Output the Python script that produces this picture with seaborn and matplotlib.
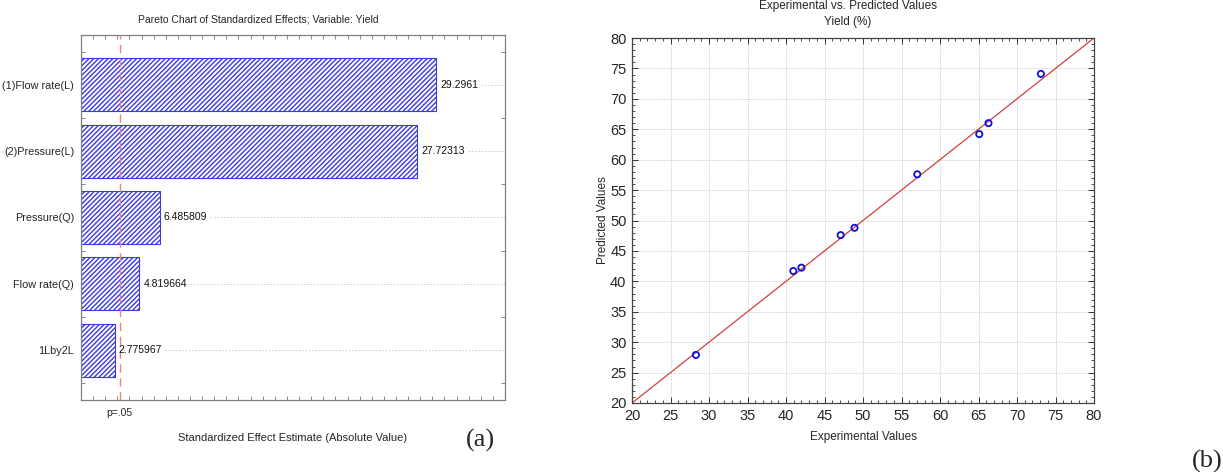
import numpy as np
import pandas as pd
import matplotlib
matplotlib.use("Agg")
import matplotlib.pyplot as plt
import seaborn as sns
from matplotlib.ticker import MultipleLocator, NullFormatter

# ---- data ----
effects = ["(1)Flow rate(L)", "(2)Pressure(L)", "Pressure(Q)", "Flow rate(Q)", "1Lby2L"]
effect_values = [29.2961, 27.72313, 6.485809, 4.819664, 2.775967]
effect_labels = ["29.2961", "27.72313", "6.485809", "4.819664", "2.775967"]
p_crit = 3.182
p_label = "p=.05"

experimental = [28.3, 40.95, 42.0, 47.1, 48.9, 57.05, 65.1, 66.3, 73.1]
predicted = [27.9, 41.7, 42.25, 47.6, 48.8, 57.6, 64.2, 66.0, 74.1]
fit_x = [20, 80]
fit_y = [20, 80]
ticks_b = [20, 25, 30, 35, 40, 45, 50, 55, 60, 65, 70, 75, 80]

sns.set_theme(style="white")
plt.rcParams["font.family"] = ["Liberation Sans", "DejaVu Sans"]
plt.rcParams["hatch.linewidth"] = 1.0

fig = plt.figure(figsize=(12.23, 4.72), dpi=100)
W, H = 1223, 472

def ax_rect(x0, y0, x1, y1):
    return [x0 / W, 1 - y1 / H, (x1 - x0) / W, (y1 - y0) / H]

# ---- panel (a) ----
axa = fig.add_axes(ax_rect(81, 35, 505, 400))
dfa = pd.DataFrame({"effect": effects, "value": effect_values})
sns.barplot(data=dfa, x="value", y="effect", orient="h", ax=axa,
            color="white", edgecolor="#3a3ae0", linewidth=0.8, width=0.8)
for p in axa.patches:
    p.set_hatch("///////")
    p.set_edgecolor("#3a3ae0")
axa.set_xlim(0, 35)
axa.set_ylim(4.75, -0.75)
for i, (v, lab) in enumerate(zip(effect_values, effect_labels)):
    axa.text(v + 0.35, i, lab, va="center", ha="left", fontsize=7.5, color="#111111", zorder=5)
    axa.plot([v + 0.35 + len(lab) * 0.48, 35], [i, i], color="#c8c8c8", lw=0.6, ls=(0, (2, 2)), zorder=1)
axa.axvline(p_crit, color="#f08080", lw=1.0, ls=(0, (6, 4)), zorder=4)
axa.set_ylabel("")
axa.set_xlabel("Standardized Effect Estimate (Absolute Value)", fontsize=8, labelpad=20)
axa.xaxis.set_major_locator(MultipleLocator(1))
axa.xaxis.set_major_formatter(NullFormatter())
axa.yaxis.set_minor_locator(MultipleLocator(0.5))
axa.tick_params(axis="x", which="both", direction="in", length=3, width=0.6, color="#777777",
                top=True, bottom=True)
axa.tick_params(axis="y", which="major", direction="in", length=0, labelsize=7.8, pad=5)
axa.tick_params(axis="y", which="minor", direction="in", length=3, width=0.6, color="#777777",
                left=True, right=True)
axa.text(p_crit, -0.036, p_label, transform=axa.get_xaxis_transform(), ha="center", va="center", fontsize=7.5)
for s in axa.spines.values():
    s.set_color("#808080")
    s.set_linewidth(0.9)
fig.text(258 / W, 1 - 19 / H, "Pareto Chart of Standardized Effects; Variable: Yield",
         ha="center", va="center", fontsize=7.5)
fig.text(480 / W, 1 - 440 / H, "(a)", ha="center", va="center", fontsize=19,
         family=["Liberation Serif", "DejaVu Serif"])

# ---- panel (b) ----
axb = fig.add_axes(ax_rect(632, 38, 1094, 403))
axb.set_axisbelow(True)
sns.lineplot(x=fit_x, y=fit_y, ax=axb, color="#d04040", lw=0.9, zorder=2)
sns.scatterplot(x=experimental, y=predicted, ax=axb, marker="o", s=20,
                facecolor="none", edgecolor="#1010d0", linewidth=1.3, zorder=3)
axb.set_xlim(20, 80)
axb.set_ylim(20, 80)
axb.set_xticks(ticks_b)
axb.set_yticks(ticks_b)
axb.xaxis.set_minor_locator(MultipleLocator(1))
axb.yaxis.set_minor_locator(MultipleLocator(1))
axb.grid(True, which="major", color="#c8c8c8", lw=0.6, ls=(0, (1, 1)))
axb.tick_params(which="major", direction="in", length=4, width=0.7, color="#333333",
                labelsize=10.5, top=True, right=True, bottom=True, left=True, pad=4)
axb.tick_params(which="minor", direction="in", length=2, width=0.6, color="#333333",
                top=True, right=True, bottom=True, left=True)
axb.set_xlabel("Experimental Values", fontsize=8.5, labelpad=6)
axb.set_ylabel("Predicted Values", fontsize=8.5, labelpad=1)
for s in axb.spines.values():
    s.set_color("#444444")
    s.set_linewidth(0.9)
fig.text(848 / W, 1 - 6 / H, "Experimental vs. Predicted Values", ha="center", va="center", fontsize=8.5)
fig.text(848 / W, 1 - 22 / H, "Yield (%)", ha="center", va="center", fontsize=8.5)
fig.text(1207 / W, 1 - 461 / H, "(b)", ha="center", va="center", fontsize=19,
         family=["Liberation Serif", "DejaVu Serif"])

fig.savefig("out.png", dpi=100)
